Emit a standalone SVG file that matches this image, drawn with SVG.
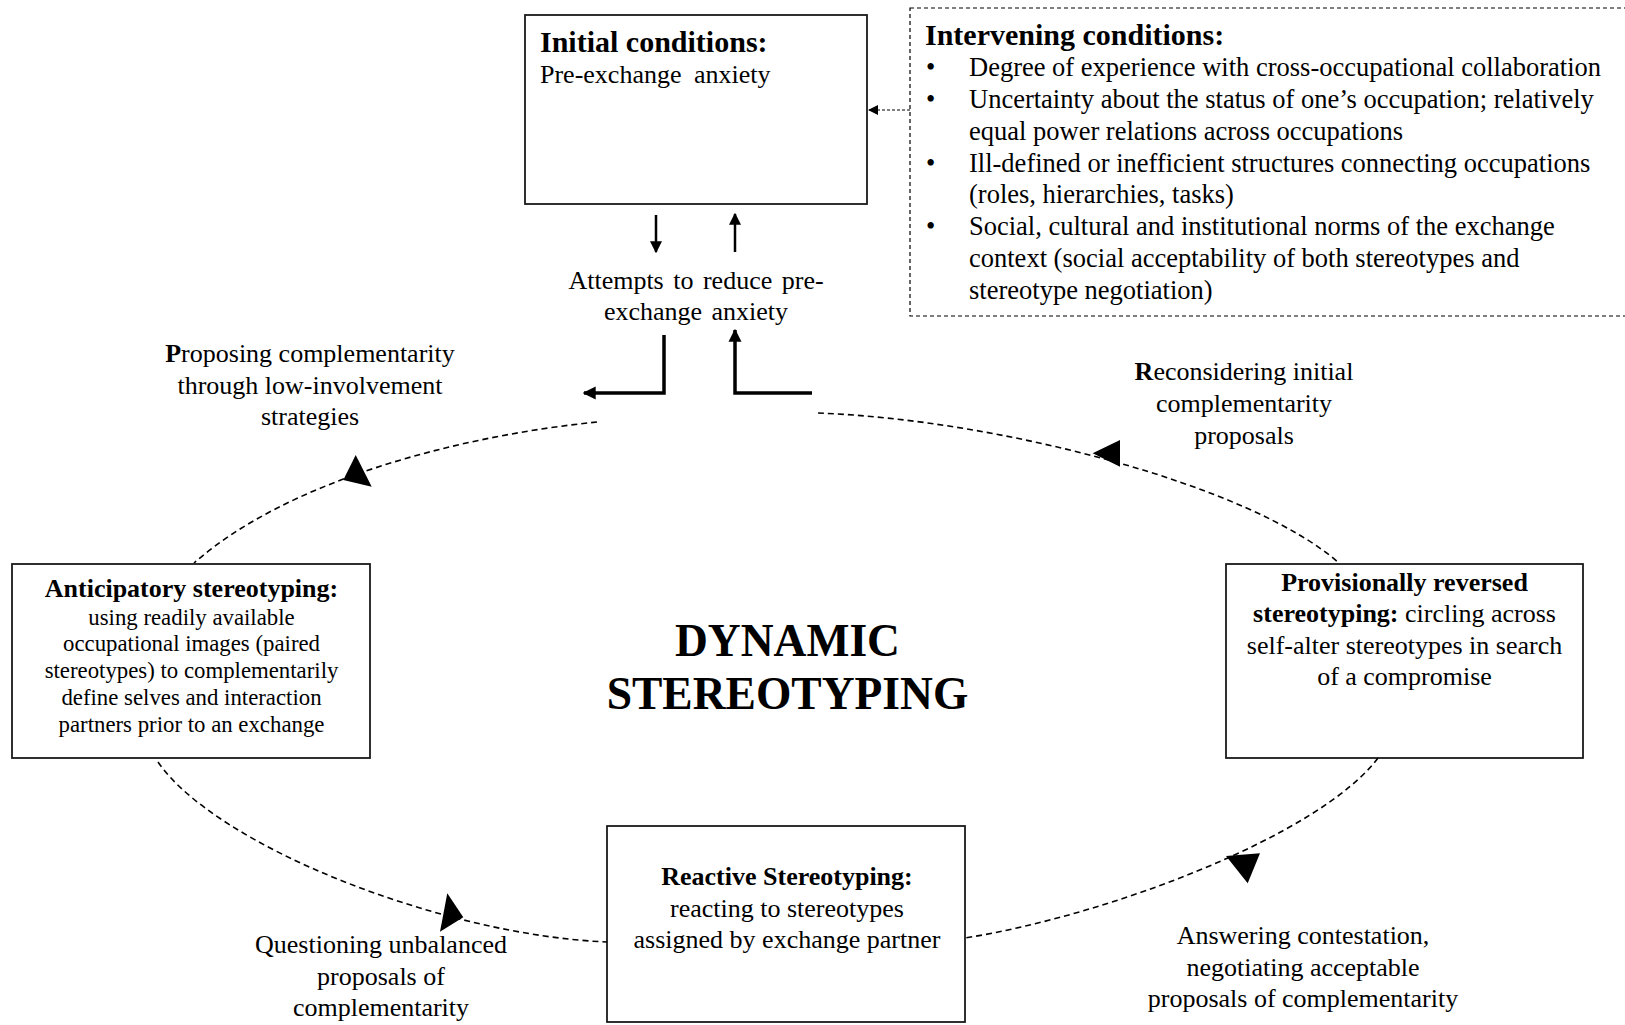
<svg xmlns="http://www.w3.org/2000/svg" width="1625" height="1025" viewBox="0 0 1625 1025">
<style>
text{font-family:"Liberation Serif","Times New Roman",serif;fill:#000}
.b{font-weight:bold}
.t26{font-size:26px}
.t30{font-size:30px}
.t23{font-size:22.8px}
.c{text-anchor:middle}
.box{fill:#fff;stroke:#1a1a1a;stroke-width:1.8}
.dash{fill:none;stroke:#000;stroke-width:1.6;stroke-dasharray:6 4}
.thick{fill:none;stroke:#000;stroke-width:3.5}
.mid{fill:none;stroke:#000;stroke-width:2.5}
</style>
<defs>
<marker id="ah" viewBox="0 0 10 10" refX="9" refY="5" markerWidth="10" markerHeight="10" markerUnits="userSpaceOnUse" orient="auto"><path d="M0,0 L10,5 L0,10 Z" fill="#000"/></marker>
<marker id="ahm" viewBox="0 0 10 10" refX="9" refY="5" markerWidth="12" markerHeight="12" markerUnits="userSpaceOnUse" orient="auto"><path d="M0,0 L10,5 L0,10 Z" fill="#000"/></marker>
<marker id="ahl" viewBox="0 0 10 10" refX="9" refY="5" markerWidth="13" markerHeight="14" markerUnits="userSpaceOnUse" orient="auto"><path d="M0,0 L10,5 L0,10 Z" fill="#000"/></marker>
</defs>

<g id="initial-conditions">
<rect class="box" x="525" y="15" width="342" height="189"/>
<text class="b t30" x="540" y="52">Initial conditions:</text>
<text class="t26" x="540" y="83" word-spacing="6">Pre-exchange anxiety</text>
</g>

<g id="intervening-conditions">
<rect x="910" y="8" width="740" height="308" fill="none" stroke="#000" stroke-width="1.2" stroke-dasharray="4 3"/>
<text class="b t30" x="925" y="45">Intervening conditions:</text>
<g font-size="26.5">
<text x="926" y="76">•</text><text x="969" y="76">Degree of experience with cross-occupational collaboration</text>
<text x="926" y="108">•</text><text x="969" y="108">Uncertainty about the status of one’s occupation; relatively</text>
<text x="969" y="140">equal power relations across occupations</text>
<text x="926" y="171.5">•</text><text x="969" y="171.5">Ill-defined or inefficient structures connecting occupations</text>
<text x="969" y="203">(roles, hierarchies, tasks)</text>
<text x="926" y="235">•</text><text x="969" y="235">Social, cultural and institutional norms of the exchange</text>
<text x="969" y="267">context (social acceptability of both stereotypes and</text>
<text x="969" y="298.5">stereotype negotiation)</text>
</g>
</g>

<g id="attempts-label">
<text class="t26 c" x="696" y="289" word-spacing="3">Attempts to reduce pre-</text>
<text class="t26 c" x="696" y="320" word-spacing="3">exchange anxiety</text>
</g>

<g id="proposing-label">
<text class="t26 c" x="310" y="362"><tspan class="b">P</tspan>roposing complementarity</text>
<text class="t26 c" x="310" y="393.5">through low-involvement</text>
<text class="t26 c" x="310" y="425">strategies</text>
</g>

<g id="reconsidering-label">
<text class="t26 c" x="1244" y="380"><tspan class="b">R</tspan>econsidering initial</text>
<text class="t26 c" x="1244" y="412">complementarity</text>
<text class="t26 c" x="1244" y="444">proposals</text>
</g>

<g id="anticipatory-stereotyping">
<rect class="box" x="12" y="564" width="358" height="194"/>
<text class="b c" font-size="26" x="191.5" y="597">Anticipatory stereotyping:</text>
<text class="t23 c" x="191.5" y="624.5">using readily available</text>
<text class="t23 c" x="191.5" y="651">occupational images (paired</text>
<text class="t23 c" x="191.5" y="678">stereotypes) to complementarily</text>
<text class="t23 c" x="191.5" y="705">define selves and interaction</text>
<text class="t23 c" x="191.5" y="732">partners prior to an exchange</text>
</g>

<g id="provisionally-reversed-stereotyping">
<rect class="box" x="1226" y="564" width="357" height="194"/>
<text class="b t26 c" x="1404.5" y="591">Provisionally reversed</text>
<text class="t26 c" x="1404.5" y="622"><tspan class="b">stereotyping:</tspan> circling across</text>
<text class="t26 c" x="1404.5" y="654">self-alter stereotypes in search</text>
<text class="t26 c" x="1404.5" y="685">of a compromise</text>
</g>

<g id="dynamic-stereotyping">
<text class="b c" font-size="45.5" x="787.5" y="656">DYNAMIC</text>
<text class="b c" font-size="45.5" x="787.5" y="709">STEREOTYPING</text>
</g>

<g id="reactive-stereotyping">
<rect class="box" x="607" y="826" width="358" height="196"/>
<text class="b t26 c" x="787" y="885">Reactive Stereotyping:</text>
<text class="t26 c" x="787" y="917">reacting to stereotypes</text>
<text class="t26 c" x="787" y="948">assigned by exchange partner</text>
</g>

<g id="questioning-label">
<text class="t26 c" x="381" y="953">Questioning unbalanced</text>
<text class="t26 c" x="381" y="985">proposals of</text>
<text class="t26 c" x="381" y="1016">complementarity</text>
</g>

<g id="answering-label">
<text class="t26 c" x="1303" y="944">Answering contestation,</text>
<text class="t26 c" x="1303" y="976">negotiating acceptable</text>
<text class="t26 c" x="1303" y="1007">proposals of complementarity</text>
</g>

<g id="connectors">
<line x1="910" y1="110" x2="869" y2="110" stroke="#000" stroke-width="1.2" stroke-dasharray="3 2" marker-end="url(#ah)"/>
<line class="mid" x1="656" y1="215" x2="656" y2="252" marker-end="url(#ahm)"/>
<line class="mid" x1="735" y1="252" x2="735" y2="214" marker-end="url(#ahm)"/>
<polyline class="thick" points="664,335 664,393 584,393" marker-end="url(#ahl)"/>
<polyline class="thick" points="812,393 735,393 735,330" marker-end="url(#ahl)"/>
<path class="dash" d="M597,422 C450,437 285,483 194,563"/>
<path class="dash" d="M818,413 C1000,420 1250,485 1339,563"/>
<path class="dash" d="M158,762 C215,845 440,935 607,942"/>
<path class="dash" d="M1378,758 C1320,835 1110,915 965,938"/>
<polygon points="355.7,455 343.3,480 371.7,486.7" fill="#000"/>
<polygon points="1092.7,453.3 1120,440 1120,466.7" fill="#000"/>
<polygon points="447.3,893.3 440,931.7 463.3,917.3" fill="#000"/>
<polygon points="1226,856 1260,853.3 1247.7,883.3" fill="#000"/>
</g>
</svg>
